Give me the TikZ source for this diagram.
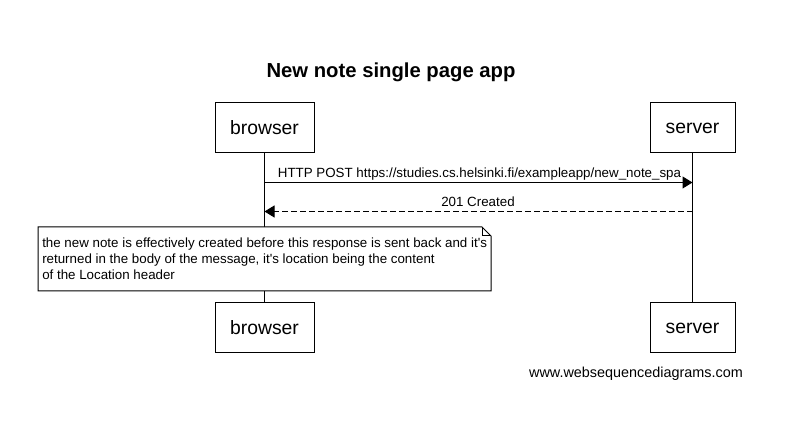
\documentclass[tikz,border=0pt]{standalone}
\usepackage{fontspec}
\setmainfont{Liberation Sans}
\usetikzlibrary{arrows.meta}
\begin{document}
\begin{tikzpicture}[x=0.75pt,y=-0.75pt,
  actor/.style={draw=black,line width=0.75pt,fill=white,minimum width=74.25pt,
    minimum height=37.5pt,inner sep=0pt,font=\fontsize{14.5pt}{17pt}\selectfont},
  lifeline/.style={draw=black,line width=0.75pt},
  msg/.style={draw=black,line width=0.75pt,-{Triangle[length=7.5pt,width=9pt]}},
  reply/.style={msg,dash pattern=on 4.5pt off 2.25pt},
  msglabel/.style={font=\fontsize{10pt}{12pt}\selectfont,inner sep=0pt,anchor=base},
  notetext/.style={font=\fontsize{10pt}{12pt}\selectfont,align=left,inner sep=0pt,
    anchor=north west,text depth=0pt}]
  \useasboundingbox (0,0) rectangle (811,423);
  % title
  \node[font=\bfseries\fontsize{15.2pt}{18pt}\selectfont,anchor=base] (title) at (391,78) {New note single page app};
  % participants
  \node[actor] (bt) at (264.5,128) {browser};
  \node[actor,minimum width=63.75pt] (st) at (692.5,128) {server};
  \node[actor] (bb) at (264.5,328) {browser};
  \node[actor,minimum width=63.75pt] (sb) at (692.5,328) {server};
  % lifelines
  \draw[lifeline] (bt.south) -- (bb.north);
  \draw[lifeline] (st.south) -- (sb.north);
  % messages
  \coordinate (m1a) at (264.5,182.5);
  \coordinate (m1b) at (692.5,182.5);
  \coordinate (m2a) at (692.5,211.5);
  \coordinate (m2b) at (264.5,211.5);
  \draw[msg] (m1a) -- (m1b);
  \node[msglabel] (l1) at (479.5,177.5) {HTTP POST https://studies.cs.helsinki.fi/exampleapp/new\_note\_spa};
  \draw[reply] (m2a) -- (m2b);
  \node[msglabel] (l2) at (478,207) {201 Created};
  % note with folded corner
  \coordinate (nw) at (38,227);
  \coordinate (ne) at (491,227);
  \coordinate (se) at (491,291);
  \coordinate (sw) at (38,291);
  \fill[white] (nw) -- ([xshift=-6.75pt]ne) -- ([yshift=-6.75pt]ne) -- (se) -- (sw) -- cycle;
  \draw[line width=0.75pt] (nw) -- ([xshift=-6.75pt]ne) -- ([yshift=-6.75pt]ne) -- (se) -- (sw) -- cycle;
  \draw[line width=0.75pt] ([xshift=-6.75pt]ne) |- ([yshift=-6.75pt]ne);
  \node[notetext] (note) at (42,237.5) {the new note is effectively created before this response is sent back and it\textquotesingle s\\returned in the body of the message, it\textquotesingle s location being the content\\of the Location header};
  % footer
  \node[font=\fontsize{10.8pt}{13pt}\selectfont,anchor=base] (footer) at (636,377.5) {www.websequencediagrams.com};
\end{tikzpicture}
\end{document}
